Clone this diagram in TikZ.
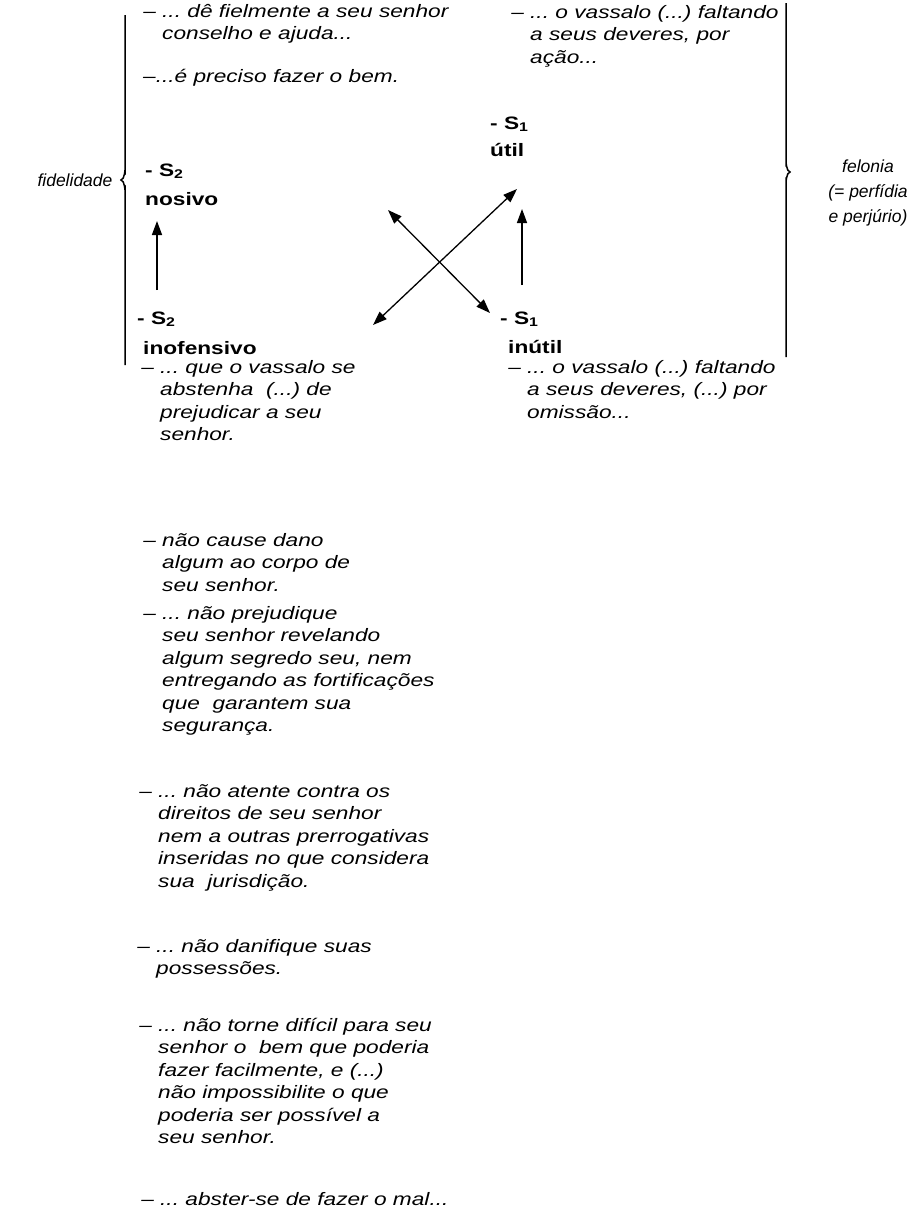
\documentclass[tikz,border=0pt]{standalone}
\usepackage{fontspec}
\setmainfont{Liberation Sans}[FakeStretch=1.26]
\newfontfamily\labelfont{Liberation Sans}
\usetikzlibrary{arrows.meta}
\newcommand\dashlead{\llap{–\ }}
\frenchspacing
\begin{document}
\begin{tikzpicture}[x=1pt,y=-1pt,
  txt/.style={anchor=base west,inner sep=0pt,align=left,font=\fontsize{18}{22.5}\selectfont\itshape\frenchspacing},
  bld/.style={anchor=base west,inner sep=0pt,font=\fontsize{18}{22.5}\selectfont\bfseries},
  lbl/.style={inner sep=0pt,align=center,font=\labelfont\fontsize{17.5}{25}\selectfont\itshape},
  arr/.style={line width=1.5pt,-{Triangle[length=14pt,width=10pt]}},
  darr/.style={line width=1.3pt,{Triangle[length=14pt,width=10pt]}-{Triangle[length=14pt,width=10pt]}},
  brk/.style={line width=1.5pt}]
\useasboundingbox (0,0) rectangle (913,1226);
% brackets
\draw[brk] (125,15) -- (125,171) to[out=90,in=0] (121,180) to[out=0,in=-90] (125,189) -- (125,365);
\draw[brk] (786,3) -- (786,163) to[out=90,in=180] (790,172) to[out=180,in=-90] (786,181) -- (786,357);
\node[lbl] (fid) at (75,180) {fidelidade};
\node[lbl] (fel) at (868,193) {felonia\\(= perfídia\\e perjúrio)};
% top texts (anchor = baseline of last line)
\node[txt] (bl1) at (162,39.5) {\dashlead... dê fielmente a seu senhor\\conselho e ajuda...};
\node[txt] (bl2) at (143,82) {–...é preciso fazer o bem.};
\node[txt] (br1) at (530,63) {\dashlead... o vassalo (...) faltando\\a seus deveres, por\\ação...};
% bold labels
\node[bld] (s2top) at (145,176) {- S\textsubscript{2}};
\node[bld] (nosivo) at (145,205) {nosivo};
\node[bld] (s1top) at (490,129) {- S\textsubscript{1}};
\node[bld] (util) at (490,156) {útil};
\node[bld] (s2low) at (137,324) {- S\textsubscript{2}};
\node[bld] (inof) at (143,354) {inofensivo};
\node[bld] (s1low) at (500,324) {- S\textsubscript{1}};
\node[bld] (inutil) at (508,353) {inútil};
% arrows
\coordinate (la) at (157,290); \coordinate (lb) at (157,221);
\coordinate (ra) at (522,285); \coordinate (rb) at (522,209);
\coordinate (d1a) at (373,325); \coordinate (d1b) at (517,189);
\coordinate (d2a) at (388,210); \coordinate (d2b) at (490,313);
\draw[arr] (la) -- (lb);
\draw[arr] (ra) -- (rb);
\draw[darr] (d1a) -- (d1b);
\draw[darr] (d2a) -- (d2b);
% lower texts
\node[txt] (h) at (160,440.5) {\dashlead... que o vassalo se\\abstenha\ \ (...) de\\prejudicar a seu\\senhor.};
\node[txt] (r2) at (527,418) {\dashlead... o vassalo (...) faltando\\a seus deveres, (...) por\\omissão...};
\node[txt] (i) at (162,591) {\dashlead não cause dano\\algum ao corpo de\\seu senhor.};
\node[txt] (j) at (162,731.5) {\dashlead... não prejudique\\seu senhor revelando\\algum segredo seu, nem\\entregando as fortificações\\que\ \ garantem sua\\segurança.};
\node[txt] (k) at (158,887) {\dashlead... não atente contra os\\direitos de seu senhor\\nem a outras prerrogativas\\inseridas no que considera\\sua\ \ jurisdição.};
\node[txt] (l) at (156,974.5) {\dashlead... não danifique suas\\possessões.};
\node[txt] (m) at (158,1143.5) {\dashlead... não torne difícil para seu\\senhor o\ \ bem que poderia\\fazer facilmente, e (...)\\não impossibilite o que\\poderia ser possível a\\seu senhor.};
\node[txt] (n) at (160,1205) {\dashlead... abster-se de fazer o mal...};
\end{tikzpicture}
\end{document}
